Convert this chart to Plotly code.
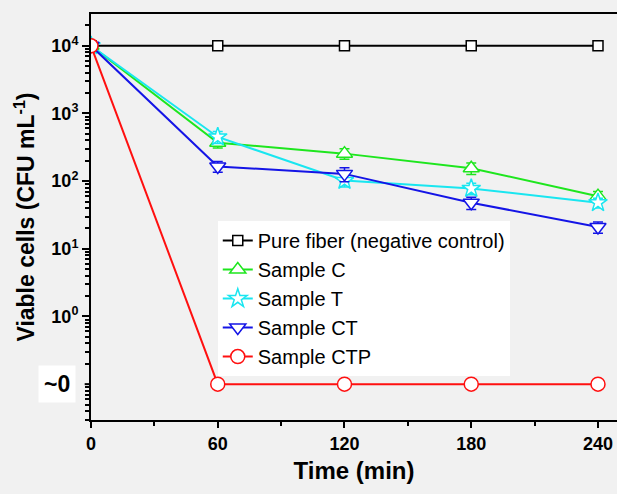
import plotly.graph_objects as go

time_min = [0, 60, 120, 180, 240]

pure_fiber = [10000, 10000, 10000, 10000, 10000]
sample_c = [10000, 370, 255, 155, 60]
sample_t = [10000, 450, 102, 78, 48]
sample_ct = [10000, 165, 128, 48, 21]
sample_ctp = [10000, 0.1, 0.1, 0.1, 0.1]

err_c = [0, 60, 45, 30, 10]
err_t = [0, 90, 20, 15, 8]
err_ct = [0, 30, 30, 10, 4]

y_tickvals = [1, 10, 100, 1000, 10000]
y_ticktext = ["10<sup>0</sup>", "10<sup>1</sup>", "10<sup>2</sup>", "10<sup>3</sup>", "10<sup>4</sup>"]
x_tickvals = [0, 60, 120, 180, 240]

FONT = "Liberation Sans, Arial, sans-serif"

series = [
    ("Pure fiber (negative control)", pure_fiber, None, "black", "square", 10),
    ("Sample C", sample_c, err_c, "#1ee61e", "triangle-up", 14),
    ("Sample T", sample_t, err_t, "#19e6f0", "star", 14),
    ("Sample CT", sample_ct, err_ct, "#1414e6", "triangle-down", 14),
    ("Sample CTP", sample_ctp, None, "#ff1010", "circle", 14),
]

fig = go.Figure()
for name, vals, err, col, sym, size in series:
    fig.add_trace(go.Scatter(
        x=time_min, y=vals, name=name, mode="lines+markers",
        line=dict(color=col, width=2),
        marker=dict(symbol=sym, size=size, color="white",
                    line=dict(color=col, width=1.5)),
        error_y=dict(type="data", array=err, color=col, thickness=1.5, width=5,
                     visible=err is not None),
    ))

minor_vals = [m * 10 ** e for e in range(-2, 5) for m in range(2, 10)]

fig.update_layout(
    width=617, height=494,
    margin=dict(l=91, r=0, t=14, b=74, autoexpand=False),
    paper_bgcolor="#f1f1f1", plot_bgcolor="#f1f1f1",
    font=dict(family=FONT, color="black"),
    showlegend=True,
    legend=dict(x=0.241, y=0.49, xanchor="left", yanchor="top",
                bgcolor="white", font=dict(size=20), tracegroupgap=0),
    xaxis=dict(range=[0, 249], tickvals=x_tickvals, showgrid=False, zeroline=False,
               automargin=False,
               showline=True, linecolor="black", linewidth=2, mirror=True,
               ticks="outside", ticklen=6, tickwidth=2, tickcolor="black",
               tickfont=dict(size=18, weight="bold"),
               minor=dict(ticks="outside", ticklen=4, tickwidth=2, dtick=30, tickcolor="black"),
               title=dict(text="<b>Time (min)</b>", font=dict(size=24), standoff=10)),
    yaxis=dict(type="log", range=[-1.53, 4.47], tickvals=y_tickvals, ticktext=y_ticktext,
               automargin=False,
               showgrid=False, zeroline=False, showline=True, linecolor="black", linewidth=2,
               ticks="outside", ticklen=7, tickwidth=2, tickcolor="black",
               ticklabelstandoff=0,
               tickfont=dict(size=18, weight="bold"),
               minor=dict(ticks="outside", ticklen=4, tickwidth=1.5, tickvals=minor_vals,
                          tickcolor="black"),
               title=dict(text="<b>Viable cells (CFU mL<sup>-1</sup>)</b>", font=dict(size=23),
                          standoff=10)),
)

fig.add_annotation(x=0, y=-1, xref="paper", yref="y", xanchor="right", yanchor="middle",
                   xshift=-15, text="<b>~0</b>", showarrow=False, bgcolor="white",
                   font=dict(size=23, color="black"), borderpad=5)
fig.add_shape(type="line", xref="paper", yref="y", x0=-0.012, x1=0, y0=0.1, y1=0.1,
              line=dict(color="black", width=2))

# drop the default 8px body margin so the figure fills the window exactly
fig.write_html("out.html", config={"displayModeBar": False},
               post_script="document.body.style.margin='0';document.body.style.overflow='hidden';")
